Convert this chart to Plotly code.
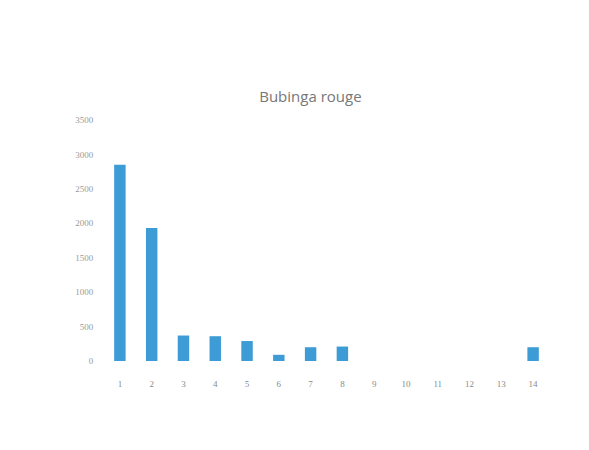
import plotly.graph_objects as go

categories = ["1", "2", "3", "4", "5", "6", "7", "8", "9", "10", "11", "12", "13", "14"]
values = [2850, 1930, 370, 360, 290, 90, 200, 210, 0, 0, 0, 0, 0, 200]
y_ticks = [0, 500, 1000, 1500, 2000, 2500, 3000, 3500]

fig = go.Figure(go.Bar(x=categories, y=values, marker_color="#3d9bd6",
                       marker_line_width=0))
fig.update_layout(
    width=589, height=450,
    margin=dict(l=104, r=40, t=120, b=89),
    paper_bgcolor="white", plot_bgcolor="white",
    bargap=0.64,
    showlegend=False,
    title=dict(text="Bubinga rouge", x=0.527, xanchor="center", y=0.785, yanchor="middle",
               font=dict(family="Open Sans, Lato, sans-serif", size=15, color="#777777")),
    font=dict(family="Liberation Serif, serif", size=9, color="#8a8a8a"),
)
fig.update_xaxes(type="category", range=[-0.5, 13.5], showgrid=False, showline=False,
                 zeroline=False, ticks="outside", ticklen=14, tickcolor="white",
                 tickfont=dict(size=9, color="#8a8a8a"))
fig.update_yaxes(range=[0, 3500], tickvals=y_ticks, showgrid=False, showline=False,
                 zeroline=False, ticks="outside", ticklen=8, tickcolor="white",
                 tickfont=dict(size=9, color="#9a9a9a"))
fig.write_html("out.html")
